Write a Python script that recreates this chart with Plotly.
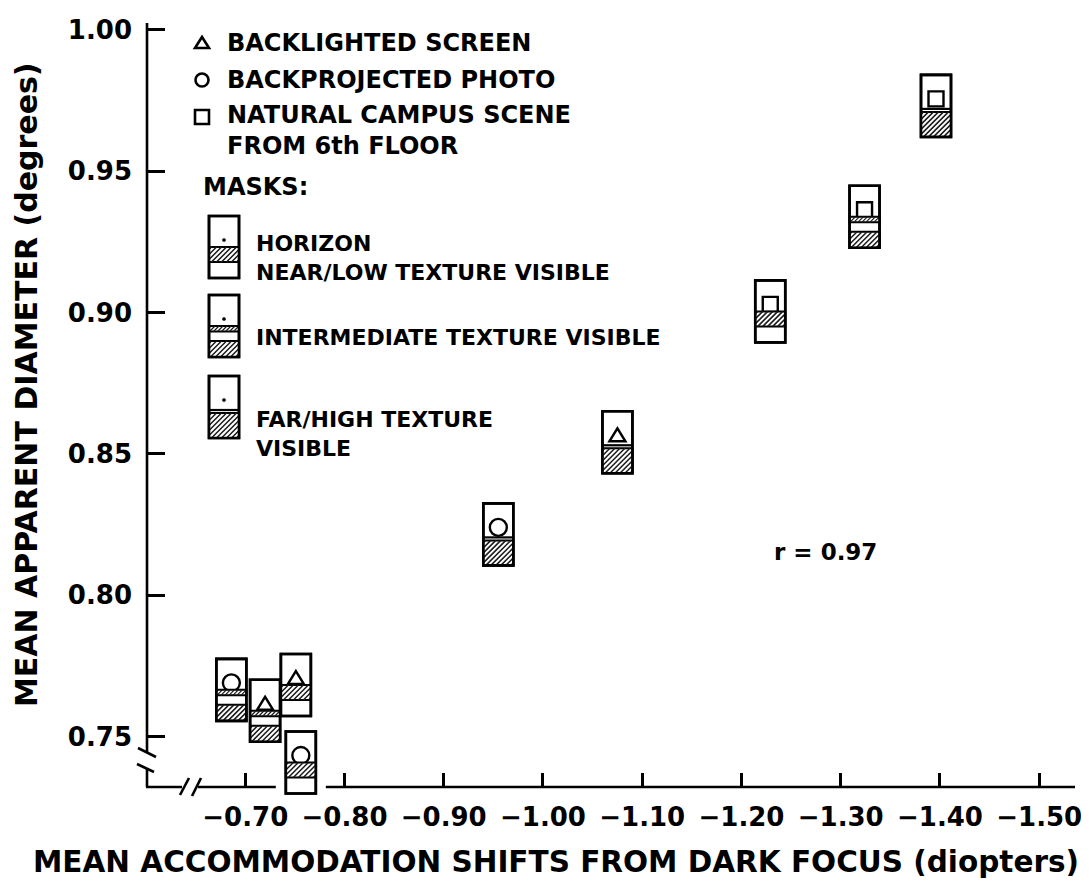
import plotly.graph_objects as go

# ---------------- data ----------------
shift_diopters = [-0.686, -0.720, -0.751, -0.756, -0.955, -1.075, -1.229, -1.324, -1.396]
apparent_diameter = [0.769, 0.7616, 0.7707, 0.7433, 0.824, 0.8566, 0.9029, 0.9364, 0.9756]
stimulus = ["circle", "triangle", "triangle", "circle", "circle", "triangle", "square", "square", "square"]
mask_type = ["I", "I", "H", "H", "F", "F", "H", "I", "F"]

x_tickvals = [-0.70, -0.80, -0.90, -1.00, -1.10, -1.20, -1.30, -1.40, -1.50]
x_ticktext = ["\u22120.70", "\u22120.80", "\u22120.90", "\u22121.00", "\u22121.10",
              "\u22121.20", "\u22121.30", "\u22121.40", "\u22121.50"]
y_tickvals = [0.75, 0.80, 0.85, 0.90, 0.95, 1.00]
y_ticktext = ["0.75", "0.80", "0.85", "0.90", "0.95", "1.00"]

legend_stimuli = [("triangle", "BACKLIGHTED SCREEN"),
                  ("circle", "BACKPROJECTED PHOTO"),
                  ("square", "NATURAL CAMPUS SCENE")]
legend_masks = [("H", ["HORIZON", "NEAR/LOW TEXTURE VISIBLE"]),
                ("I", ["INTERMEDIATE TEXTURE VISIBLE"]),
                ("F", ["FAR/HIGH TEXTURE", "VISIBLE"])]
r_text = "r = 0.97"

# ---------------- layout geometry (page pixels; page has 8px body margin) ----------------
PAGE_OFF = 8
PL, PR, PT, PB = 147, 1075, 15, 800          # plot area edges in page pixels
W, H = 1089 - PAGE_OFF, 888 - PAGE_OFF
ML, MT = PL - PAGE_OFF, PT - PAGE_OFF
MR, MB = W - (PR - PAGE_OFF), H - (PB - PAGE_OFF)
PW, PH = PR - PL, PB - PT
FONT = "DejaVu Sans"
BLACK = "black"


def off(px, py):
    """page pixel position -> offset from paper origin (y up)."""
    return px - PL, PB - py


def hatch_path(x0, x1, y0, y1, dx=0, dy=0, step=5.0):
    segs = []
    c = x0 - y1 + step / 2
    while c < x1 - y0:
        ax = max(x0, y0 + c)
        bx = min(x1, y1 + c)
        if bx > ax:
            segs.append(f"M{dx+ax:.2f},{dy+ax-c:.2f} L{dx+bx:.2f},{dy+bx-c:.2f}")
        c += step
    return " ".join(segs)


def glyph(xa, ya, xref, yref, sym, msk, dx=0, dy=0):
    base = dict(xref=xref, yref=yref, xsizemode="pixel", ysizemode="pixel",
                xanchor=xa, yanchor=ya, layer="above")
    out = []

    def rect(x0, x1, y0, y1, fill="white", lw=2.0, lc=BLACK):
        out.append(dict(type="rect", x0=dx + x0, x1=dx + x1, y0=dy + y0, y1=dy + y1,
                        fillcolor=fill, line=dict(color=lc, width=lw), **base))

    def hatch(x0, x1, y0, y1, step=5.0, lw=1.5):
        p = hatch_path(x0, x1, y0, y1, dx, dy, step)
        if p:
            out.append(dict(type="path", path=p, line=dict(color="#1a1a1a", width=lw), **base))

    def line(x0, y0, x1, y1, lw=2.0):
        out.append(dict(type="line", x0=dx + x0, x1=dx + x1, y0=dy + y0, y1=dy + y1,
                        line=dict(color=BLACK, width=lw), **base))

    rect(-15, 15, -38, 24, lw=2.6)
    if sym == "triangle":
        out.append(dict(type="path", path=f"M{dx-8},{dy-6} L{dx+8},{dy-6} L{dx},{dy+7} Z",
                        fillcolor="white", line=dict(color=BLACK, width=2.4), **base))
    elif sym == "circle":
        out.append(dict(type="circle", x0=dx - 8.5, x1=dx + 8.5, y0=dy - 8.5, y1=dy + 8.5,
                        fillcolor="white", line=dict(color=BLACK, width=2.4), **base))
    elif sym == "square":
        rect(-7.5, 7.5, -7.5, 7.5, lw=2.4)
    elif sym == "dot":
        out.append(dict(type="circle", x0=dx - 1.6, x1=dx + 1.6, y0=dy - 1.6, y1=dy + 1.6,
                        fillcolor=BLACK, line=dict(color=BLACK, width=0.5), **base))
    if msk == "H":
        rect(-15, 15, -22, -7, lw=2.0)
        hatch(-15, 15, -22, -7)
    elif msk == "I":
        rect(-15, 15, -12.5, -7, lw=2.0)
        hatch(-15, 15, -12.5, -7, step=4.0, lw=1.2)
        rect(-15, 15, -38, -22, lw=2.0)
        hatch(-15, 15, -38, -22)
    elif msk == "F":
        line(-15, -10, 15, -10, lw=2.2)
        rect(-15, 15, -38, -13, lw=2.0)
        hatch(-15, 15, -38, -13)
    out.append(dict(type="rect", x0=dx - 15, x1=dx + 15, y0=dy - 38, y1=dy + 24,
                    fillcolor="rgba(0,0,0,0)", line=dict(color=BLACK, width=2.6), **base))
    return out


shapes = []

# ---------------- axis chrome (lines with breaks) ----------------
chrome = [((147, 23), (147, 752)), ((138, 748), (156, 757)), ((137, 764), (154, 772)),
          ((147, 768), (147, 787)), ((146, 787), (182, 787)), ((180, 795), (189, 778)),
          ((192, 796), (201, 778)), ((198, 787), (1075, 787))]
for (p0, p1) in chrome:
    a, b = off(*p0)
    c, d = off(*p1)
    shapes.append(dict(type="line", xref="paper", yref="paper", xsizemode="pixel",
                       ysizemode="pixel", xanchor=0, yanchor=0, x0=a, y0=b, x1=c, y1=d,
                       line=dict(color=BLACK, width=2.6), layer="above"))

# white halos around the data glyphs (they interrupt the axis line)
for xv, yv in zip(shift_diopters, apparent_diameter):
    shapes.append(dict(type="rect", xref="x", yref="y", xsizemode="pixel", ysizemode="pixel",
                       xanchor=xv, yanchor=yv, x0=-25, x1=25, y0=-40, y1=26,
                       fillcolor="white", line=dict(width=0), layer="above"))

for xv, yv, s, m in zip(shift_diopters, apparent_diameter, stimulus, mask_type):
    shapes += glyph(xv, yv, "x", "y", s, m)

# ---------------- legend ----------------
annotations = []


def text_at(px, py, txt, size, anchor="left", angle=0):
    dxp, dyp = off(px, py)
    annotations.append(dict(x=0, y=0, xref="paper", yref="paper", xshift=dxp, yshift=dyp,
                            text=f"<b>{txt}</b>", showarrow=False, xanchor=anchor,
                            yanchor="middle", textangle=angle, align="left",
                            font=dict(family=FONT, size=size, color=BLACK)))


sym_y = [43, 80, 117]
for (sym, label), py in zip(legend_stimuli, sym_y):
    dxp, dyp = off(202, py)
    base = dict(xref="paper", yref="paper", xsizemode="pixel", ysizemode="pixel",
                xanchor=0, yanchor=0, layer="above")
    if sym == "triangle":
        shapes.append(dict(type="path", path=f"M{dxp-7},{dyp-5} L{dxp+7},{dyp-5} L{dxp},{dyp+6} Z",
                           line=dict(color=BLACK, width=2.6), **base))
    elif sym == "circle":
        shapes.append(dict(type="circle", x0=dxp - 6.5, x1=dxp + 6.5, y0=dyp - 6.5, y1=dyp + 6.5,
                           line=dict(color=BLACK, width=2.6), **base))
    else:
        shapes.append(dict(type="rect", x0=dxp - 7, x1=dxp + 7, y0=dyp - 7, y1=dyp + 7,
                           line=dict(color=BLACK, width=2.6), **base))
text_at(225, 43, legend_stimuli[0][1], 24)
text_at(225, 80, legend_stimuli[1][1], 24)
text_at(225, 130, legend_stimuli[2][1] + "<br>FROM 6th FLOOR", 24)
text_at(201, 187, "MASKS:", 24)

mask_glyph_y = [240, 319, 400]
mask_text_y = [258, 337, 434]
for (m, lines), gy, ty in zip(legend_masks, mask_glyph_y, mask_text_y):
    dxp, dyp = off(224, gy)
    shapes += glyph(0, 0, "paper", "paper", "dot", m, dx=dxp, dy=dyp)
    text_at(254, ty, "<br>".join(lines), 22)

text_at(825, 552, r_text, 23, anchor="center")

# axis titles
text_at(26, 385, "MEAN APPARENT DIAMETER (degrees)", 30, anchor="center", angle=-90)
text_at(556, 862, "MEAN ACCOMMODATION SHIFTS FROM DARK FOCUS (diopters)", 29.5, anchor="center")

# ---------------- figure ----------------
fig = go.Figure()
fig.add_trace(go.Scatter(x=shift_diopters, y=apparent_diameter, mode="markers",
                         marker=dict(size=10, opacity=0), showlegend=False,
                         hovertemplate="shift %{x:.2f} D<br>diameter %{y:.3f}°<extra></extra>"))

ybot = 1.00 - (PB - 23) / 2852
ytop = 1.00 + (23 - PT) / 2852
xleft = -0.70 + (246 - PL) / 1000
xright = -0.70 - (PR - 246) / 1000

fig.update_layout(
    width=W, height=H, margin=dict(l=ML, r=MR, t=MT, b=MB, pad=0),
    paper_bgcolor="white", plot_bgcolor="white", showlegend=False,
    shapes=shapes, annotations=annotations,
    xaxis=dict(range=[xleft, xright], anchor="free", position=(PB - 787) / PH,
               showline=False, showgrid=False, zeroline=False,
               ticks="inside", ticklen=14, tickwidth=2.6, tickcolor=BLACK,
               tickvals=x_tickvals, ticktext=x_ticktext, ticklabelstandoff=12,
               tickfont=dict(family=FONT, size=26, color=BLACK, weight="bold")),
    yaxis=dict(range=[ybot, ytop], showline=False, showgrid=False, zeroline=False,
               ticks="inside", ticklen=18, tickwidth=2.6, tickcolor=BLACK,
               tickvals=y_tickvals, ticktext=y_ticktext, ticklabelstandoff=14,
               tickfont=dict(family=FONT, size=26, color=BLACK, weight="bold")),
)

fig.write_html("out.html")
